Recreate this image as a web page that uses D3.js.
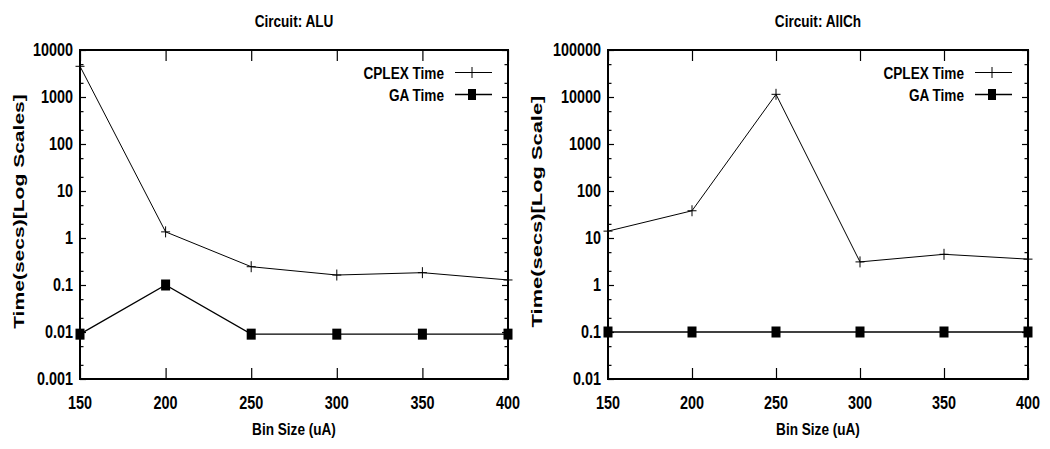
<!DOCTYPE html>
<html>
<head>
<meta charset="utf-8">
<script src="https://cdn.jsdelivr.net/npm/d3@7"></script>
<style>
  html, body { margin: 0; padding: 0; background: #fff; }
  text { font-family: "Liberation Sans", Arial, Helvetica, sans-serif; font-weight: bold; fill: #000; }
</style>
</head>
<body>
<svg id="chart" width="1050" height="449"></svg>
<script>
// ---- data ----
const binSizes = [150, 200, 250, 300, 350, 400];
const xTicks = [150, 200, 250, 300, 350, 400];

const aluCplex = [4500, 1.35, 0.245, 0.163, 0.183, 0.128];
const aluGA = [0.009, 0.1, 0.009, 0.009, 0.009, 0.009];
const aluYTicks = [0.001, 0.01, 0.1, 1, 10, 100, 1000, 10000];
const aluYLabels = ["0.001", "0.01", "0.1", "1", "10", "100", "1000", "10000"];

const allchCplex = [14, 38, 11400, 3.1, 4.5, 3.55];
const allchGA = [0.1, 0.1, 0.1, 0.1, 0.1, 0.1];
const allchYTicks = [0.01, 0.1, 1, 10, 100, 1000, 10000, 100000];
const allchYLabels = ["0.01", "0.1", "1", "10", "100", "1000", "10000", "100000"];

const seriesNames = ["CPLEX Time", "GA Time"];

const panels = [
  { title: "Circuit: ALU", ylabel: "Time(secs)[Log Scales]", cplex: aluCplex, ga: aluGA,
    yTicks: aluYTicks, yLabels: aluYLabels, x0: 80, x1: 508, ylabX: 23.5, ylabLen: 235 },
  { title: "Circuit: AllCh", ylabel: "Time(secs)[Log Scale]", cplex: allchCplex, ga: allchGA,
    yTicks: allchYTicks, yLabels: allchYLabels, x0: 608, x1: 1028, ylabX: 542, ylabLen: 232 }
];

const svg = d3.select("#chart");
const plotTop = 50, plotBottom = 379;
const SX = 0.8; // horizontal condensation of text

function hText(g, x, y, str, size, anchor) {
  g.append("g").attr("transform", `translate(${x},${y}) scale(${SX},1)`)
    .append("text").attr("x", 0).attr("y", 0)
    .attr("font-size", size).attr("text-anchor", anchor).text(str);
}

function plusPath(cx, cy) {
  return `M${cx - 4.5},${cy}H${cx + 4.5}M${cx},${cy - 5.5}V${cy + 5.5}`;
}

panels.forEach(p => {
  const g = svg.append("g");
  const x = d3.scaleLinear().domain([xTicks[0], xTicks[xTicks.length - 1]]).range([p.x0, p.x1]);
  const y = d3.scaleLog().domain([p.yTicks[0], p.yTicks[p.yTicks.length - 1]]).range([plotBottom, plotTop]);

  // minor ticks at 2x and 5x
  const minors = [];
  p.yTicks.slice(0, -1).forEach(t => { minors.push(t * 2, t * 5); });

  const yAxisL = d3.axisRight(y).tickValues(p.yTicks).tickSize(6).tickFormat("");
  const yAxisR = d3.axisLeft(y).tickValues(p.yTicks).tickSize(6).tickFormat("");
  const yMinL = d3.axisRight(y).tickValues(minors).tickSize(3.5).tickFormat("");
  const yMinR = d3.axisLeft(y).tickValues(minors).tickSize(3.5).tickFormat("");
  const xAxisB = d3.axisTop(x).tickValues(xTicks).tickSize(11).tickFormat("");
  const xAxisT = d3.axisBottom(x).tickValues(xTicks).tickSize(11).tickFormat("");

  const axes = [
    [yAxisL, `translate(${p.x0},0)`], [yAxisR, `translate(${p.x1},0)`],
    [yMinL, `translate(${p.x0},0)`], [yMinR, `translate(${p.x1},0)`],
    [xAxisB, `translate(0,${plotBottom})`], [xAxisT, `translate(0,${plotTop})`]
  ];
  axes.forEach(([ax, tr]) => {
    const a = g.append("g").attr("transform", tr).call(ax);
    a.select(".domain").remove();
    a.selectAll("line").attr("stroke", "#000").attr("stroke-width", 1.2);
  });

  // y tick labels
  p.yTicks.forEach((t, i) => hText(g, p.x0 - 7, y(t) + 6, p.yLabels[i], 18, "end"));
  // x tick labels
  xTicks.forEach(t => hText(g, x(t), 409, String(t), 18, "middle"));

  // border
  g.append("rect").attr("x", p.x0).attr("y", plotTop).attr("width", p.x1 - p.x0).attr("height", plotBottom - plotTop)
    .attr("fill", "none").attr("stroke", "#000").attr("stroke-width", 2);

  // title and x label
  hText(g, (p.x0 + p.x1) / 2, 27, p.title, 17, "middle");
  hText(g, (p.x0 + p.x1) / 2, 435, "Bin Size (uA)", 17, "middle");

  // y label (stretched along its length)
  const yl = g.append("g").attr("transform", `translate(${p.ylabX},${211.5}) rotate(-90)`)
    .append("g");
  const ylt = yl.append("text").attr("font-size", 15).attr("text-anchor", "middle").text(p.ylabel);
  const len = ylt.node().getComputedTextLength();
  yl.attr("transform", `scale(${p.ylabLen / len},1)`);

  // lines
  const line = d3.line().x((d, i) => x(binSizes[i])).y(d => y(d));
  g.append("path").datum(p.cplex).attr("d", line).attr("fill", "none").attr("stroke", "#000").attr("stroke-width", 1);
  g.append("path").datum(p.ga).attr("d", line).attr("fill", "none").attr("stroke", "#000").attr("stroke-width", 1.3);

  // markers
  g.selectAll(".plus").data(p.cplex).enter().append("path")
    .attr("d", (d, i) => plusPath(x(binSizes[i]), y(d)))
    .attr("stroke", "#000").attr("stroke-width", 1).attr("fill", "none");
  g.selectAll(".sq").data(p.ga).enter().append("rect")
    .attr("x", (d, i) => x(binSizes[i]) - 4.5).attr("y", d => y(d) - 5.5)
    .attr("width", 9).attr("height", 11).attr("fill", "#000");

  // legend
  const legY = [72.5, 94.5];
  seriesNames.forEach((name, i) => {
    hText(g, p.x1 - 64, legY[i] + 6, name, 17, "end");
    g.append("line").attr("x1", p.x1 - 53).attr("x2", p.x1 - 16)
      .attr("y1", legY[i]).attr("y2", legY[i]).attr("stroke", "#000").attr("stroke-width", i ? 1.3 : 1);
    const cx = p.x1 - 36;
    if (i === 0) {
      g.append("path").attr("d", plusPath(cx, legY[i])).attr("stroke", "#000").attr("stroke-width", 1);
    } else {
      g.append("rect").attr("x", cx - 4).attr("y", legY[i] - 5.5).attr("width", 8).attr("height", 11).attr("fill", "#000");
    }
  });
});
</script>
</body>
</html>
